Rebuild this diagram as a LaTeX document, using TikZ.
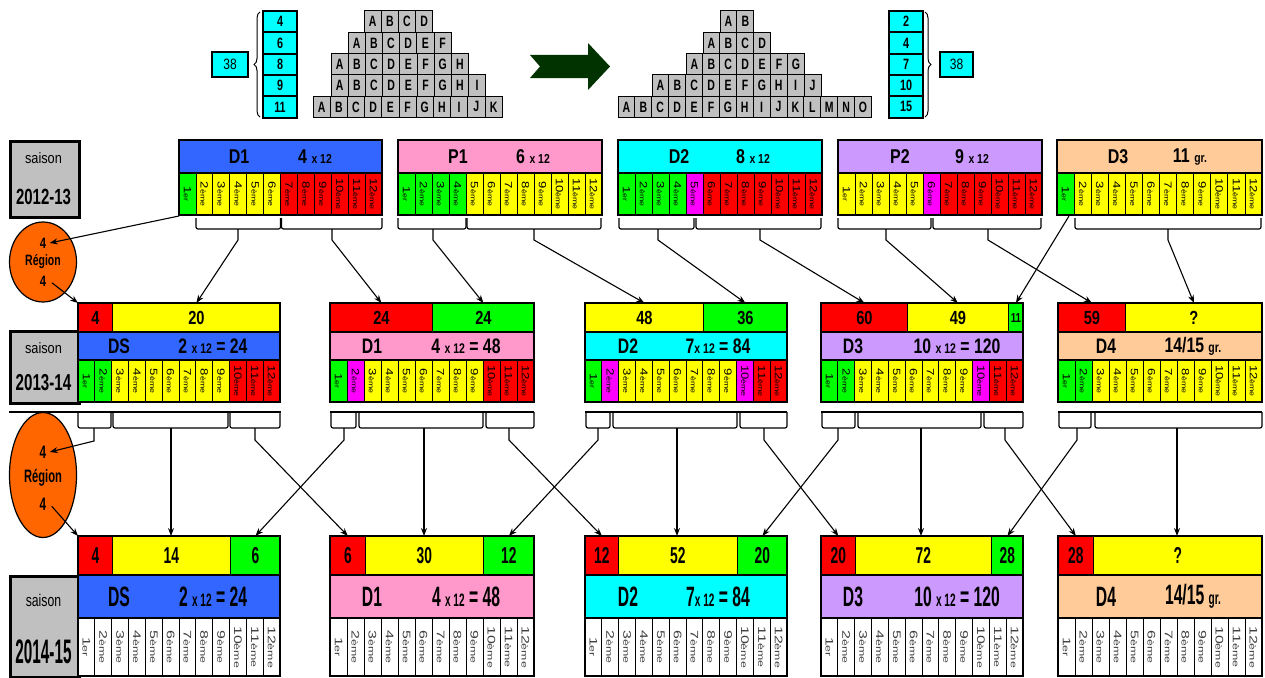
\documentclass[tikz,border=0pt]{standalone}
\usepackage{fontspec}
\setmainfont{Liberation Sans}
\usetikzlibrary{arrows.meta,decorations.pathreplacing,shapes.geometric}
\definecolor{hblue}{RGB}{51,102,255}
\definecolor{hpink}{RGB}{255,153,204}
\definecolor{hcyan}{RGB}{0,255,255}
\definecolor{hlav}{RGB}{204,153,255}
\definecolor{hpeach}{RGB}{255,204,153}
\definecolor{cg}{RGB}{0,255,0}
\definecolor{cy}{RGB}{255,255,0}
\definecolor{cr}{RGB}{255,0,0}
\definecolor{cm}{RGB}{255,0,255}
\definecolor{cw}{RGB}{255,255,255}
\definecolor{sgray}{RGB}{192,192,192}
\definecolor{orng}{RGB}{255,102,0}
\definecolor{dgreen}{RGB}{0,51,0}
\newcommand{\tx}[3]{\scalebox{#1}[1]{\fontsize{#2}{#2}\selectfont #3}}
\newcommand{\sm}[2]{{\fontsize{#1}{#1}\selectfont #2}}
\newcommand{\fA}[1]{\tx{0.8}{20}{\bfseries #1}}
\newcommand{\fB}[1]{\tx{0.75}{21}{\bfseries #1}}
\newcommand{\fC}[1]{\tx{0.56}{28}{\bfseries #1}}
\newcommand{\tB}[1]{\tx{0.77}{19}{\bfseries #1}}
\newcommand{\tC}[1]{\tx{0.6}{23}{\bfseries #1}}
\newcommand{\letr}[1]{\ifcase#1\or A\or B\or C\or D\or E\or F\or G\or H\or I\or J\or K\or L\or M\or N\or O\fi}
\newcommand{\labA}{\scalebox{1.25}[1]{\fontsize{10.5}{10.5}\selectfont\i\fontsize{7}{7}\selectfont\ifnum\i=1 er\else ème\fi}}
\newcommand{\labB}{\color{black!75}\scalebox{1.45}[1]{\fontsize{11}{11}\selectfont\i\fontsize{8.5}{8.5}\selectfont\ifnum\i=1 er\else ème\fi}}
\newcommand{\cellrow}[7]{%
  \foreach \cc [count=\i] in {#6}{%
    \pgfmathsetmacro\xa{#2+(\i-1)*(#3-#2)/12}%
    \pgfmathsetmacro\xb{#2+\i*(#3-#2)/12}%
    \draw[line width=0.8pt, fill=\cc] (\xa,#4) rectangle (\xb,#5);
    \node[rotate=-90, inner sep=0pt] (#1-c\i) at ({(\xa+\xb)/2},{(#4+#5)/2}) {#7};
  }}
\newcommand{\bc}[7]{\node[barcell, fill=#6, minimum width={#3-#2}, minimum height={#5-#4}, anchor=north west] (#1) at (#2,#4) {#7};}
\newcommand{\brA}[2]{\draw[brk] (#1,218) -- (#1,229) -- (#2,229) -- (#2,218);}
\newcommand{\brB}[2]{\draw[brk] (#1,412) -- (#1,428) -- (#2,428) -- (#2,412);}
\newcommand{\stm}[4]{\coordinate (#1) at (#2,#3); \coordinate (#1k) at (#2,#4);}
\begin{document}
\begin{tikzpicture}[x=1pt,y=-1pt,
  barcell/.style={draw, line width=0.8pt, inner sep=0pt},
  brk/.style={line width=1.2pt, rounded corners=2pt},
  arr/.style={-{Stealth[length=8pt,width=6pt]}, line width=1.1pt},
  pcell/.style={draw, line width=1pt, fill=sgray, inner sep=0pt, minimum height=21.3},
  colbox/.style={draw, line width=2pt, fill=hcyan, inner sep=0pt, minimum width=34, minimum height=21.3},
  box38/.style={draw, line width=2.2pt, fill=hcyan, inner sep=0pt, minimum height=25},
  sbox/.style={draw, line width=2.5pt, fill=sgray, inner sep=0pt, anchor=north west},
  thickb/.style={line width=2.5pt}]
\useasboundingbox (0,0) rectangle (1265,677);

% ---------- top: pyramids ----------
\node[box38, minimum width=36] (L38) at (230,64.5) {\tx{0.8}{15}{38}};
\foreach \v [count=\k] in {4,6,8,9,11}
  \node[colbox] (lc\k) at (280,{11+(\k-0.5)*21.3}) {\tx{0.72}{15}{\bfseries\v}};
\draw[decorate, decoration={brace, amplitude=6pt}, line width=1pt] (260,117) -- (260,12);
\foreach \n/\xs [count=\rr] in {4/364,6/348,8/331,9/331,11/313}{
  \foreach \j in {1,...,\n}{
    \node[pcell, minimum width=17.2] (pl\rr-\j) at ({\xs+(\j-0.5)*17.2},{11+(\rr-0.5)*21.3}) {\tx{0.7}{15}{\bfseries\letr{\j}}};
  }}
\fill[dgreen] (530,55) -- (588,55) -- (588,43) -- (610,66.5) -- (588,90) -- (588,78) -- (530,78) -- (540,66.5) -- cycle;
\foreach \n/\xs [count=\rr] in {2/720,4/703,7/686,10/652,15/618}{
  \foreach \j in {1,...,\n}{
    \node[pcell, minimum width=16.9] (pr\rr-\j) at ({\xs+(\j-0.5)*16.9},{11+(\rr-0.5)*21.3}) {\tx{0.7}{15}{\bfseries\letr{\j}}};
  }}
\foreach \v [count=\k] in {2,4,7,10,15}
  \node[colbox] (rc\k) at (906,{11+(\k-0.5)*21.3}) {\tx{0.72}{15}{\bfseries\v}};
\draw[decorate, decoration={brace, amplitude=6pt}, line width=1pt] (925,12) -- (925,117);
\node[box38, minimum width=33] (R38) at (956.5,64.5) {\tx{0.8}{15}{38}};

% ---------- row 1 : 2012-13 ----------
\node[sbox, minimum width=69, minimum height=76] (s1) at (9,140) {};
\node (s1a) at (43.5,158) {\tx{0.85}{15}{saison}};
\node (s1b) at (43.5,197) {\tx{0.68}{22}{\bfseries 2012-13}};

\draw[line width=1pt, fill=hblue] (179,140) rectangle (382,173);
\node (r1d1-t) at (239,156.5) {\fA{D1}};
\node (r1d1-n) at (315,156.5) {\fA{4 \sm{13}{x 12}}};
\cellrow{r1d1}{179}{382}{173}{215}{cg,cy,cy,cy,cy,cy,cr,cr,cr,cr,cr,cr}{\labA}
\draw[thickb] (179,140) rectangle (382,215); \draw[line width=2pt] (179,173) -- (382,173);

\draw[line width=1pt, fill=hpink] (398,140) rectangle (602,173);
\node (r1p1-t) at (458,156.5) {\fA{P1}};
\node (r1p1-n) at (533,156.5) {\fA{6 \sm{13}{x 12}}};
\cellrow{r1p1}{398}{602}{173}{215}{cg,cg,cg,cg,cy,cy,cy,cy,cy,cy,cy,cy}{\labA}
\draw[thickb] (398,140) rectangle (602,215); \draw[line width=2pt] (398,173) -- (602,173);

\draw[line width=1pt, fill=hcyan] (618,140) rectangle (822,173);
\node (r1d2-t) at (679,156.5) {\fA{D2}};
\node (r1d2-n) at (753,156.5) {\fA{8 \sm{13}{x 12}}};
\cellrow{r1d2}{618}{822}{173}{215}{cg,cg,cg,cg,cm,cr,cr,cr,cr,cr,cr,cr}{\labA}
\draw[thickb] (618,140) rectangle (822,215); \draw[line width=2pt] (618,173) -- (822,173);

\draw[line width=1pt, fill=hlav] (838,140) rectangle (1042,173);
\node (r1p2-t) at (900,156.5) {\fA{P2}};
\node (r1p2-n) at (972,156.5) {\fA{9 \sm{13}{x 12}}};
\cellrow{r1p2}{838}{1042}{173}{215}{cy,cy,cy,cy,cy,cm,cr,cr,cr,cr,cr,cr}{\labA}
\draw[thickb] (838,140) rectangle (1042,215); \draw[line width=2pt] (838,173) -- (1042,173);

\draw[line width=1pt, fill=hpeach] (1057,140) rectangle (1262,173);
\node (r1d3-t) at (1118,156.5) {\fA{D3}};
\node (r1d3-n) at (1190,156.5) {\fA{11 \sm{13}{gr.}}};
\cellrow{r1d3}{1057}{1262}{173}{215}{cg,cy,cy,cy,cy,cy,cy,cy,cy,cy,cy,cy}{\labA}
\draw[thickb] (1057,140) rectangle (1262,215); \draw[line width=2pt] (1057,173) -- (1262,173);

% brackets row 1
\brA{196}{280.5} \brA{281.5}{382}
\brA{398}{466} \brA{467}{601}
\brA{619}{694} \brA{696}{821}
\brA{838}{931} \brA{933}{1041}
\brA{1075}{1261}

% ---------- ellipse 1 ----------
\node[ellipse, draw, line width=1.2pt, fill=orng, inner sep=0pt, minimum width=67, minimum height=80] (e1) at (43,262) {};
\node (e1a) at (43,243) {\tx{0.75}{15}{\bfseries 4}};
\node (e1b) at (43,262) {\tx{0.7}{15}{\bfseries Région}};
\node (e1c) at (43,281) {\tx{0.75}{15}{\bfseries 4}};

% ---------- row 2 : 2013-14 ----------
\node[sbox, minimum width=69, minimum height=72] (s2) at (9,330) {};
\node (s2a) at (43.5,348) {\tx{0.85}{15}{saison}};
\node (s2b) at (43.5,383) {\tx{0.66}{23}{\bfseries 2013-14}};

% DS
\bc{r2ds-r}{78}{112}{303}{332}{cr}{\tB{4}}
\bc{r2ds-y}{112}{280}{303}{332}{cy}{\tB{20}}
\draw[line width=1pt, fill=hblue] (78,332) rectangle (280,360);
\node (r2ds-t) at (119,346) {\fB{DS}};
\node (r2ds-n) at (213,346) {\fB{2 \sm{14}{x 12} = 24}};
\cellrow{r2ds}{78}{280}{360}{402}{cg,cg,cy,cy,cy,cy,cy,cy,cy,cr,cr,cr}{\labA}
\draw[thickb] (78,303) rectangle (280,402); \draw[thickb] (78,332) -- (280,332) (78,360) -- (280,360);
% D1
\bc{r2d1-r}{330}{432}{303}{332}{cr}{\tB{24}}
\bc{r2d1-g}{432}{534}{303}{332}{cg}{\tB{24}}
\draw[line width=1pt, fill=hpink] (330,332) rectangle (534,360);
\node (r2d1-t) at (372,346) {\fB{D1}};
\node (r2d1-n) at (466,346) {\fB{4 \sm{14}{x 12} = 48}};
\cellrow{r2d1}{330}{534}{360}{402}{cg,cm,cy,cy,cy,cy,cy,cy,cy,cr,cr,cr}{\labA}
\draw[thickb] (330,303) rectangle (534,402); \draw[thickb] (330,332) -- (534,332) (330,360) -- (534,360);
% D2
\bc{r2d2-y}{585}{703}{303}{332}{cy}{\tB{48}}
\bc{r2d2-g}{703}{787}{303}{332}{cg}{\tB{36}}
\draw[line width=1pt, fill=hcyan] (585,332) rectangle (787,360);
\node (r2d2-t) at (628,346) {\fB{D2}};
\node (r2d2-n) at (718,346) {\fB{7\sm{14}{x 12} = 84}};
\cellrow{r2d2}{585}{787}{360}{402}{cg,cm,cy,cy,cy,cy,cy,cy,cy,cm,cr,cr}{\labA}
\draw[thickb] (585,303) rectangle (787,402); \draw[thickb] (585,332) -- (787,332) (585,360) -- (787,360);
% D3
\bc{r2d3-r}{821}{907}{303}{332}{cr}{\tB{60}}
\bc{r2d3-y}{907}{1008}{303}{332}{cy}{\tB{49}}
\bc{r2d3-g}{1008}{1023}{303}{332}{cg}{\tx{0.75}{13}{\bfseries 11}}
\draw[line width=1pt, fill=hlav] (821,332) rectangle (1023,360);
\node (r2d3-t) at (853,346) {\fB{D3}};
\node (r2d3-n) at (957,346) {\fB{10 \sm{14}{x 12} = 120}};
\cellrow{r2d3}{821}{1023}{360}{402}{cg,cg,cy,cy,cy,cy,cy,cy,cy,cm,cr,cr}{\labA}
\draw[thickb] (821,303) rectangle (1023,402); \draw[thickb] (821,332) -- (1023,332) (821,360) -- (1023,360);
% D4
\bc{r2d4-r}{1058}{1125}{303}{332}{cr}{\tB{59}}
\bc{r2d4-y}{1125}{1262}{303}{332}{cy}{\tB{?}}
\draw[line width=1pt, fill=hpeach] (1058,332) rectangle (1262,360);
\node (r2d4-t) at (1106,346) {\fB{D4}};
\node (r2d4-n) at (1193,346) {\fB{14/15 \sm{14}{gr.}}};
\cellrow{r2d4}{1058}{1262}{360}{402}{cg,cg,cy,cy,cy,cy,cy,cy,cy,cy,cy,cy}{\labA}
\draw[thickb] (1058,303) rectangle (1262,402); \draw[thickb] (1058,332) -- (1262,332) (1058,360) -- (1262,360);

% base lines and brackets row 2
\draw[thickb] (9,412) -- (281,412) (330,412) -- (534,412) (585,412) -- (787,412) (821,412) -- (1023,412) (1058,412) -- (1262,412);
\brB{78}{111} \brB{113}{228} \brB{230}{280}
\brB{331}{356} \brB{359}{483} \brB{486}{534}
\brB{586}{610} \brB{613}{737} \brB{740}{787}
\brB{822}{855} \brB{858}{981} \brB{984}{1023}
\brB{1059}{1091} \brB{1095}{1262}

% ---------- ellipse 2 ----------
\node[ellipse, draw, line width=1.2pt, fill=orng, inner sep=0pt, minimum width=67, minimum height=125] (e2) at (43,475) {};
\node (e2a) at (43,452) {\tx{0.65}{18}{\bfseries 4}};
\node (e2b) at (43,478) {\tx{0.62}{18}{\bfseries Région}};
\node (e2c) at (43,504) {\tx{0.65}{18}{\bfseries 4}};

% ---------- row 3 : 2014-15 ----------
\node[sbox, minimum width=69, minimum height=101] (s3) at (9,575) {};
\node (s3a) at (43.5,600) {\tx{0.72}{17}{saison}};
\node (s3b) at (43.5,652) {\tx{0.45}{34}{\bfseries 2014-15}};

% DS
\bc{r3ds-r}{78}{112}{536}{575}{cr}{\tC{4}}
\bc{r3ds-y}{112}{230}{536}{575}{cy}{\tC{14}}
\bc{r3ds-g}{230}{280}{536}{575}{cg}{\tC{6}}
\draw[line width=1pt, fill=hblue] (78,575) rectangle (280,618);
\node (r3ds-t) at (119,596.5) {\fC{DS}};
\node (r3ds-n) at (213,596.5) {\fC{2 \sm{18}{x 12} = 24}};
\cellrow{r3ds}{78}{280}{618}{676}{cw,cw,cw,cw,cw,cw,cw,cw,cw,cw,cw,cw}{\labB}
\draw[thickb] (78,536) rectangle (280,676); \draw[thickb] (78,575) -- (280,575) (78,618) -- (280,618);
% D1
\bc{r3d1-r}{330}{365}{536}{575}{cr}{\tC{6}}
\bc{r3d1-y}{365}{483}{536}{575}{cy}{\tC{30}}
\bc{r3d1-g}{483}{534}{536}{575}{cg}{\tC{12}}
\draw[line width=1pt, fill=hpink] (330,575) rectangle (534,618);
\node (r3d1-t) at (372,596.5) {\fC{D1}};
\node (r3d1-n) at (466,596.5) {\fC{4 \sm{18}{x 12} = 48}};
\cellrow{r3d1}{330}{534}{618}{676}{cw,cw,cw,cw,cw,cw,cw,cw,cw,cw,cw,cw}{\labB}
\draw[thickb] (330,536) rectangle (534,676); \draw[thickb] (330,575) -- (534,575) (330,618) -- (534,618);
% D2
\bc{r3d2-r}{585}{618}{536}{575}{cr}{\tC{12}}
\bc{r3d2-y}{618}{737}{536}{575}{cy}{\tC{52}}
\bc{r3d2-g}{737}{787}{536}{575}{cg}{\tC{20}}
\draw[line width=1pt, fill=hcyan] (585,575) rectangle (787,618);
\node (r3d2-t) at (628,596.5) {\fC{D2}};
\node (r3d2-n) at (718,596.5) {\fC{7\sm{18}{x 12} = 84}};
\cellrow{r3d2}{585}{787}{618}{676}{cw,cw,cw,cw,cw,cw,cw,cw,cw,cw,cw,cw}{\labB}
\draw[thickb] (585,536) rectangle (787,676); \draw[thickb] (585,575) -- (787,575) (585,618) -- (787,618);
% D3
\bc{r3d3-r}{821}{855}{536}{575}{cr}{\tC{20}}
\bc{r3d3-y}{855}{991}{536}{575}{cy}{\tC{72}}
\bc{r3d3-g}{991}{1023}{536}{575}{cg}{\tC{28}}
\draw[line width=1pt, fill=hlav] (821,575) rectangle (1023,618);
\node (r3d3-t) at (853,596.5) {\fC{D3}};
\node (r3d3-n) at (957,596.5) {\fC{10 \sm{18}{x 12} = 120}};
\cellrow{r3d3}{821}{1023}{618}{676}{cw,cw,cw,cw,cw,cw,cw,cw,cw,cw,cw,cw}{\labB}
\draw[thickb] (821,536) rectangle (1023,676); \draw[thickb] (821,575) -- (1023,575) (821,618) -- (1023,618);
% D4
\bc{r3d4-r}{1058}{1093}{536}{575}{cr}{\tC{28}}
\bc{r3d4-y}{1093}{1262}{536}{575}{cy}{\tC{?}}
\draw[line width=1pt, fill=hpeach] (1058,575) rectangle (1262,618);
\node (r3d4-t) at (1106,596.5) {\fC{D4}};
\node (r3d4-n) at (1193,596.5) {\fC{14/15 \sm{18}{gr.}}};
\cellrow{r3d4}{1058}{1262}{618}{676}{cw,cw,cw,cw,cw,cw,cw,cw,cw,cw,cw,cw}{\labB}
\draw[thickb] (1058,536) rectangle (1262,676); \draw[thickb] (1058,575) -- (1262,575) (1058,618) -- (1262,618);

% ---------- connectors row 1 -> row 2 ----------
\coordinate (a0) at (179,216);
\coordinate (a9) at (1069,216);
\stm{a1}{238}{229}{240} \stm{a2}{332}{229}{240}
\stm{a3}{433}{229}{240} \stm{a4}{534}{229}{240}
\stm{a5}{658}{229}{240} \stm{a6}{760}{229}{240}
\stm{a7}{886}{229}{240} \stm{a8}{988}{229}{240}
\stm{a10}{1168}{229}{240}
\draw[arr] (a0) -- (e1a.east);
\draw[arr, shorten <=3pt] (e1c.east) -- (r2ds-r.north west);
\draw[arr] (a1) -- (a1k) -- (r2ds-y.north);
\draw[arr] (a2) -- (a2k) -- (r2d1-r.north);
\draw[arr] (a3) -- (a3k) -- (r2d1-g.north);
\draw[arr] (a4) -- (a4k) -- (r2d2-y.north);
\draw[arr] (a5) -- (a5k) -- (r2d2-g.north);
\draw[arr] (a6) -- (a6k) -- (r2d3-r.north);
\draw[arr] (a7) -- (a7k) -- (r2d3-y.north);
\draw[arr] (a8) -- (a8k) -- (r2d4-r.north);
\draw[arr] (a9) -- (r2d3-g.north);
\draw[arr] (a10) -- (a10k) -- (r2d4-y.north);

% ---------- connectors row 2 -> row 3 ----------
\stm{b1}{94}{428}{441} \stm{b2}{171}{428}{440} \stm{b3}{255}{428}{440}
\stm{b4}{344}{428}{440} \stm{b5}{424}{428}{440} \stm{b6}{509}{428}{440}
\stm{b7}{598}{428}{440} \stm{b8}{677}{428}{440} \stm{b9}{764}{428}{440}
\stm{b10}{838}{428}{440} \stm{b11}{921}{428}{440} \stm{b12}{1005}{428}{440}
\stm{b13}{1077}{428}{440} \stm{b14}{1177}{428}{440}
\draw[arr] (b1) -- (b1k) -- (e2a.east);
\draw[arr, shorten <=3pt] (e2c.east) -- (r3ds-r.north west);
\draw[arr] (b2) -- (b2 |- r3ds-y.north);
\draw[arr] (b3) -- (b3k) -- (r3d1-r.north);
\draw[arr] (b4) -- (b4k) -- (r3ds-g.north);
\draw[arr] (b5) -- (b5 |- r3d1-y.north);
\draw[arr] (b6) -- (b6k) -- (r3d2-r.north);
\draw[arr] (b7) -- (b7k) -- (r3d1-g.north);
\draw[arr] (b8) -- (b8 |- r3d2-y.north);
\draw[arr] (b9) -- (b9k) -- (r3d3-r.north);
\draw[arr] (b10) -- (b10k) -- (r3d2-g.north);
\draw[arr] (b11) -- (b11 |- r3d3-y.north);
\draw[arr] (b12) -- (b12k) -- (r3d4-r.north);
\draw[arr] (b13) -- (b13k) -- (r3d3-g.north);
\draw[arr] (b14) -- (b14 |- r3d4-y.north);
\end{tikzpicture}
\end{document}
